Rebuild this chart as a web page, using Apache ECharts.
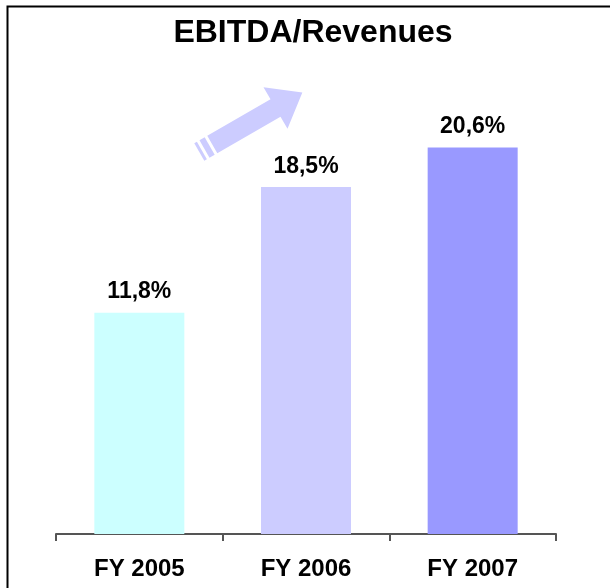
<!DOCTYPE html>
<html lang="en">
<head>
    <meta charset="UTF-8">
    <title>EBITDA/Revenues</title>
    <script src="https://cdn.jsdelivr.net/npm/echarts@6/dist/echarts.min.js"></script>
    <style>
        body { margin: 0; background: #fff; }
        #chart { width: 610px; height: 588px; }
    </style>
</head>
<body>
    <div id="chart"></div>
    <script>
        const years = ['FY 2005', 'FY 2006', 'FY 2007'];
        const ebitdaMargin = [11.8, 18.5, 20.6];
        const barColors = ['#CCFFFF', '#CCCCFF', '#9999FF'];

        const chart = echarts.init(document.getElementById('chart'));

        // decorative arrow, drawn in a frame rotated 30 degrees
        const ang = 30 * Math.PI / 180;
        const ox = 275.5, oy = 108;
        function pt(u, v) {
            return [ox + u * Math.cos(ang) + v * Math.sin(ang),
                    oy - u * Math.sin(ang) + v * Math.cos(ang)];
        }
        function quad(u0, u1, h) {
            return [pt(u0, -h), pt(u1, -h), pt(u1, h), pt(u0, h)];
        }
        const arrowColor = '#CCCCFF';
        const arrowParts = [
            [pt(-73, -10), pt(0, -10), pt(0, -24), pt(31, 0), pt(0, 24), pt(0, 10), pt(-73, 10)],
            quad(-82, -76, 10),
            quad(-88, -85, 10)
        ].map(points => ({
            type: 'polygon',
            shape: { points: points },
            style: { fill: arrowColor }
        }));

        const option = {
            animation: false,
            grid: { left: 56, right: 54, top: 65, bottom: 54 },
            xAxis: {
                type: 'category',
                data: years,
                axisLine: { lineStyle: { color: '#555', width: 2 } },
                axisTick: { show: true, length: 7, lineStyle: { color: '#555', width: 2 } },
                axisLabel: {
                    color: '#000',
                    fontFamily: 'Liberation Sans',
                    fontWeight: 'bold',
                    fontSize: 24,
                    margin: 23
                }
            },
            yAxis: {
                type: 'value',
                min: 0,
                max: 25,
                show: false,
                splitLine: { show: false }
            },
            series: [{
                type: 'bar',
                barWidth: 90,
                data: ebitdaMargin.map((v, i) => ({ value: v, itemStyle: { color: barColors[i] } })),
                label: {
                    show: true,
                    position: 'top',
                    distance: 9,
                    color: '#000',
                    fontFamily: 'Liberation Sans',
                    fontWeight: 'bold',
                    fontSize: 23,
                    formatter: p => p.value.toFixed(1).replace('.', ',') + '%'
                }
            }],
            graphic: [
                {
                    type: 'polyline',
                    shape: { points: [[7.5, 588], [7.5, 6.5], [610, 6.5]] },
                    style: { stroke: '#000', lineWidth: 2, fill: null }
                },
                {
                    type: 'text',
                    x: 313,
                    y: 33,
                    style: {
                        text: 'EBITDA/Revenues',
                        fill: '#000',
                        font: 'bold 32px "Liberation Sans"',
                        textAlign: 'center',
                        textVerticalAlign: 'middle'
                    }
                }
            ].concat(arrowParts)
        };

        chart.setOption(option);
    </script>
</body>
</html>
